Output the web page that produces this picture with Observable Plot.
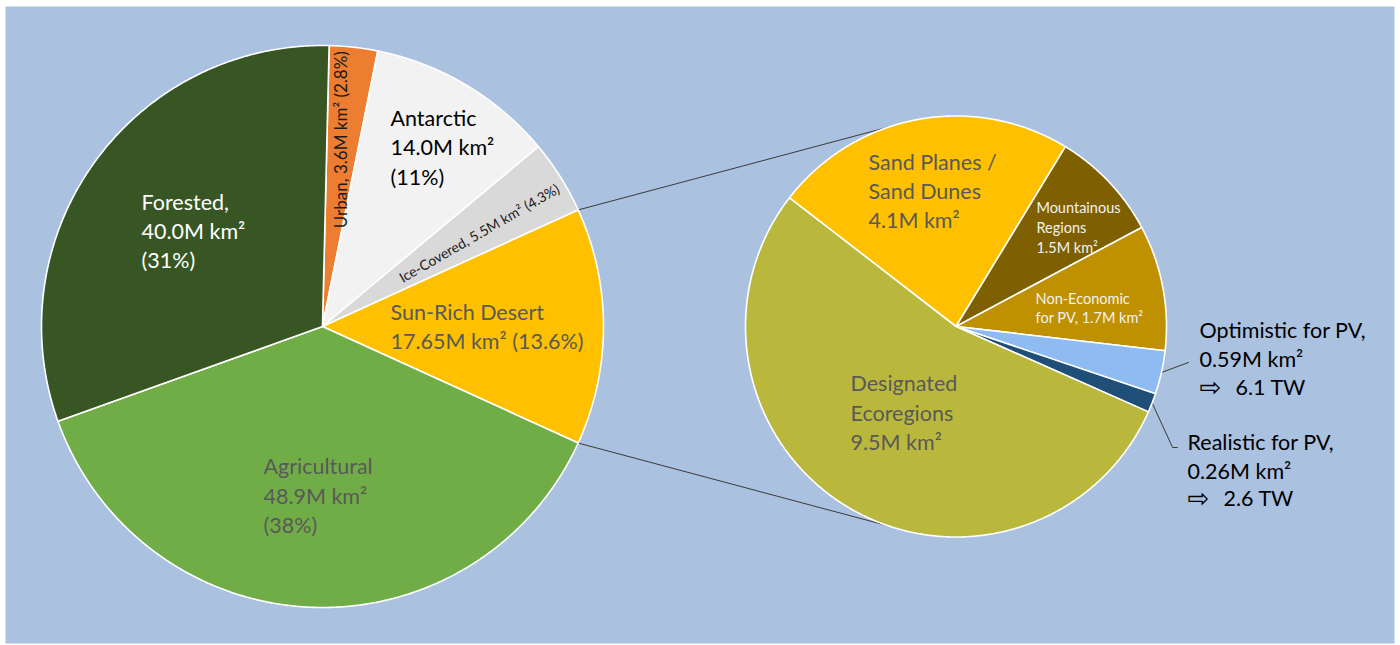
<!DOCTYPE html>
<html>
<head>
<meta charset="utf-8">
<script src="https://cdn.jsdelivr.net/npm/d3@7"></script>
<script src="https://cdn.jsdelivr.net/npm/@observablehq/plot@0.6"></script>
<style>
  html, body { margin: 0; padding: 0; background: #ffffff; }
  #chart svg { display: block; }
</style>
</head>
<body>
<div id="chart"></div>
<script>
// ---------- DATA ----------
// Primary pie: global land area (million km²), clockwise from the top
const landNames  = ["Urban", "Antarctic", "Ice-Covered", "Sun-Rich Desert", "Agricultural", "Forested"];
const landValues = [3.6, 14.0, 5.5, 17.65, 48.9, 40.0];
const landShares = ["2.8%", "11%", "4.3%", "13.6%", "38%", "31%"];

// Secondary pie: breakdown of the sun-rich desert (million km²), clockwise
const desertNames  = ["Sand Planes / Sand Dunes", "Mountainous Regions", "Non-Economic for PV",
                      "Optimistic for PV", "Realistic for PV", "Designated Ecoregions"];
const desertValues = [4.1, 1.5, 1.7, 0.59, 0.26, 9.5];

// PV potential of the two usable categories (TW)
const pvNames = ["Optimistic for PV", "Realistic for PV"];
const pvPower = [6.1, 2.6];

// ---------- STYLE / LAYOUT ----------
const W = 1400, H = 645;
const BG = "#ABC1E0";
const FONT = "Lato, 'Open Sans', sans-serif";
const landColors   = ["#ED7D31", "#F2F2F2", "#D9D9D9", "#FFC000", "#70AD47", "#375623"];
const desertColors = ["#FFC000", "#7F6000", "#BF9000", "#8DBBF2", "#1F4E79", "#BAB83C"];
const leftPie  = {cx: 322, cy: 326, r: 281};
const rightPie = {cx: 955.5, cy: 326, r: 210.5};
const splitIndex = 3;            // "Sun-Rich Desert" is exploded into the second pie
const rightStartDeg = -52.3;     // rotation of the secondary pie
const connectorDeg = 18.5;       // where connector lines meet the secondary pie
const BIG = 21.5, SMALL = 14.5;

// ---------- GEOMETRY ----------
function pt(p, deg, k = 1) {
  const t = deg * Math.PI / 180;
  return [p.cx + p.r * k * Math.sin(t), p.cy - p.r * k * Math.cos(t)];
}
function makeSlices(names, values, colors, startDeg, group) {
  const total = d3.sum(values);
  let a = startDeg;
  return names.map((name, i) => {
    const span = values[i] / total * 360;
    const s = {name, value: values[i], color: colors[i], a0: a, a1: a + span, group};
    a += span;
    return s;
  });
}
// rotate the primary pie so the split slice is centred at 3 o'clock
const landTotal = d3.sum(landValues);
const before = d3.sum(landValues.slice(0, splitIndex));
const leftStartDeg = 90 - (before + landValues[splitIndex] / 2) / landTotal * 360;

const leftSlices  = makeSlices(landNames, landValues, landColors, leftStartDeg, "L");
const rightSlices = makeSlices(desertNames, desertValues, desertColors, rightStartDeg, "R");

function polygon(s, p) {
  const out = [{key: s.group + s.name, x: p.cx, y: p.cy, color: s.color}];
  const n = Math.max(2, Math.ceil((s.a1 - s.a0) * 3));
  for (let k = 0; k <= n; k++) {
    const [x, y] = pt(p, s.a0 + (s.a1 - s.a0) * k / n);
    out.push({key: s.group + s.name, x, y, color: s.color});
  }
  return out;
}
const polyPts = [
  ...leftSlices.flatMap(s => polygon(s, leftPie)),
  ...rightSlices.flatMap(s => polygon(s, rightPie))
];

// connector lines
const split = leftSlices[splitIndex];
const [ax, ay] = pt(leftPie, split.a0), [bx, by] = pt(leftPie, split.a1);
const [cx1, cy1] = pt(rightPie, -connectorDeg), [cx2, cy2] = pt(rightPie, 180 + connectorDeg);
const connectors = [
  {k: "top", x: ax, y: ay}, {k: "top", x: cx1, y: cy1},
  {k: "bot", x: bx, y: by}, {k: "bot", x: cx2, y: cy2}
];

// ---------- LABELS ----------
const km = v => (Math.round(v * 100) % 10 !== 0 ? v.toFixed(2) : v.toFixed(1)) + "M km²";
const li = n => landNames.indexOf(n), di = n => desertNames.indexOf(n);
const L = n => landValues[li(n)], S = n => landShares[li(n)], D = n => desertValues[di(n)];
const place = d => ({...d, x: d.p.cx + d.p.r * d.fx, y: d.p.cy + d.p.r * d.fy});

const bigLabels = [
  {p: leftPie, fx: -0.644, fy: -0.345, fill: "#FFFFFF", text: `Forested,\n${km(L("Forested"))}\n(${S("Forested")})`},
  {p: leftPie, fx: -0.210, fy: 0.597, fill: "#595959", text: `Agricultural\n${km(L("Agricultural"))}\n(${S("Agricultural")})`},
  {p: leftPie, fx: 0.242, fy: -0.642, fill: "#000000", text: `Antarctic\n${km(L("Antarctic"))}\n(${S("Antarctic")})`},
  {p: leftPie, fx: 0.242, fy: -0.004, fill: "#595959", text: `Sun-Rich Desert\n${km(L("Sun-Rich Desert"))} (${S("Sun-Rich Desert")})`},
  {p: rightPie, fx: -0.416, fy: -0.650, fill: "#595959", text: `Sand Planes /\nSand Dunes\n${km(D("Sand Planes / Sand Dunes"))}`},
  {p: rightPie, fx: -0.501, fy: 0.403, fill: "#595959", text: `Designated\nEcoregions\n${km(D("Designated Ecoregions"))}`},
  {p: rightPie, fx: 1.157, fy: 0.080, fill: "#000000", text: `Optimistic for PV,\n${km(D("Optimistic for PV"))}`},
  {p: rightPie, fx: 1.100, fy: 0.610, fill: "#000000", text: `Realistic for PV,\n${km(D("Realistic for PV"))}`}
].map(place);

const smallLabels = [
  {p: rightPie, fx: 0.382, fy: -0.475, text: `Mountainous\nRegions\n${km(D("Mountainous Regions"))}`},
  {p: rightPie, fx: 0.378, fy: -0.091, text: `Non-Economic\nfor PV, ${km(D("Non-Economic for PV"))}`}
].map(place);

const rotated = [
  {p: leftPie, fx: 0.068, fy: -0.665, size: 17, rotate: -90, text: `Urban, ${km(L("Urban"))} (${S("Urban")})`},
  {p: leftPie, fx: 0.559, fy: -0.330, size: 14, rotate: -30, text: `Ice-Covered, ${km(L("Ice-Covered"))} (${S("Ice-Covered")})`}
].map(place);

// PV power lines (arrow + value)
const pvLayout = [{fx: 1.157, fy: 0.292}, {fx: 1.100, fy: 0.819}];
const pvRows = pvNames.map((n, i) => ({
  x: rightPie.cx + rightPie.r * pvLayout[i].fx,
  y: rightPie.cy + rightPie.r * pvLayout[i].fy,
  text: `${pvPower[i]} TW`
}));

// leader lines from the thin slices to their labels
const mid = s => (s.a0 + s.a1) / 2;
const opt = rightSlices[di("Optimistic for PV")], real = rightSlices[di("Realistic for PV")];
const leaderPts = [];
{
  const [x0, y0] = pt(rightPie, mid(opt));
  leaderPts.push({k: "o", x: x0, y: y0});
  leaderPts.push({k: "o", x: rightPie.cx + rightPie.r * 1.1045, y: rightPie.cy + rightPie.r * 0.171});
  const [x1, y1] = pt(rightPie, mid(real));
  leaderPts.push({k: "r", x: x1, y: y1});
  leaderPts.push({k: "r", x: rightPie.cx + rightPie.r * 1.029, y: rightPie.cy + rightPie.r * 0.575});
  leaderPts.push({k: "r", x: rightPie.cx + rightPie.r * 1.052, y: rightPie.cy + rightPie.r * 0.575});
}

// ---------- PLOT ----------
const chart = Plot.plot({
  width: W,
  height: H,
  margin: 0,
  style: {background: "#ffffff", fontFamily: FONT},
  x: {domain: [0, W], range: [0, W], axis: null},
  y: {domain: [0, H], range: [0, H], axis: null},
  color: {type: "identity"},
  marks: [
    Plot.frame({fill: BG, stroke: "none", insetLeft: 5, insetTop: 6, insetRight: 6, insetBottom: 2}),
    Plot.line(connectors, {x: "x", y: "y", z: "k", stroke: "#3a3a3a", strokeWidth: 1}),
    Plot.line(leaderPts, {x: "x", y: "y", z: "k", stroke: "#3a3a3a", strokeWidth: 1, strokeLinejoin: "miter"}),
    Plot.line(polyPts, {x: "x", y: "y", z: "key", fill: "color", stroke: "#ffffff", strokeWidth: 1.6, curve: "linear-closed"}),
    Plot.text(bigLabels, {x: "x", y: "y", text: "text", fill: "fill", fontSize: BIG, lineHeight: 29.2 / BIG,
      textAnchor: "start", lineAnchor: "middle", fontFamily: FONT}),
    Plot.text(smallLabels, {x: "x", y: "y", text: "text", fill: "#F2F2F2", fontSize: SMALL, lineHeight: 19.7 / SMALL,
      textAnchor: "start", lineAnchor: "middle", fontFamily: FONT}),
    Plot.text(rotated, {x: "x", y: "y", text: "text", fill: "#1a1a1a", fontSize: "size", rotate: "rotate",
      textAnchor: "middle", lineAnchor: "middle", fontFamily: FONT}),
    Plot.text(pvRows, {x: "x", y: "y", text: () => "⇨", fill: "#000", fontSize: 26, textAnchor: "start",
      lineAnchor: "middle", fontFamily: "'DejaVu Sans'"}),
    Plot.text(pvRows, {x: "x", y: "y", dx: 36, text: "text", fill: "#000", fontSize: BIG, textAnchor: "start",
      lineAnchor: "middle", fontFamily: FONT})
  ]
});
document.getElementById("chart").appendChild(chart);
</script>
</body>
</html>
